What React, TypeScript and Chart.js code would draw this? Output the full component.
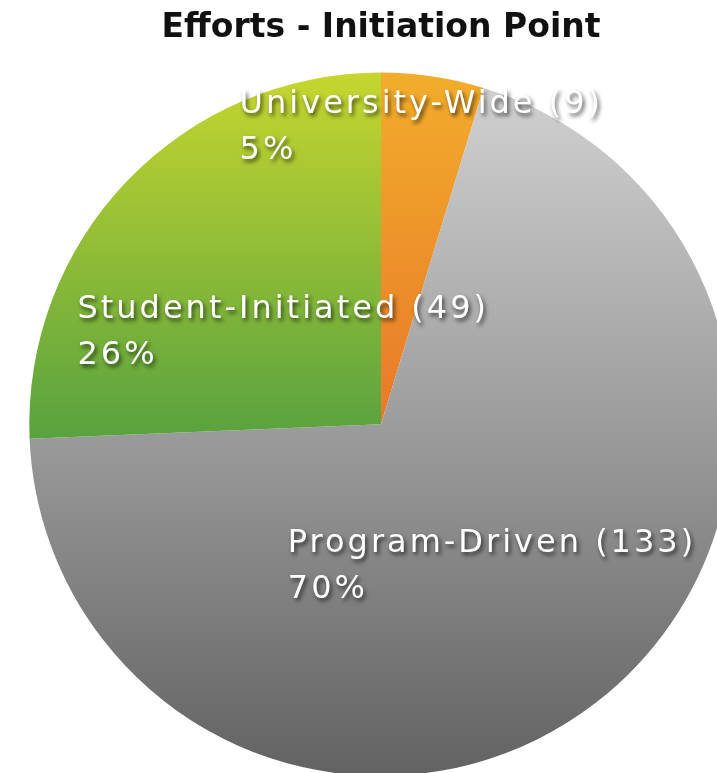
import React, { useEffect, useRef } from "react";
import { Chart, registerables } from "chart.js";

Chart.register(...registerables);

const chartTitle = "Efforts - Initiation Point";
const categories = ["University-Wide", "Program-Driven", "Student-Initiated"];
const counts = [9, 133, 49];
const percentLabels = ["5%", "70%", "26%"];

// label anchor (left edge, first line centre) relative to pie centre, in units of radius
const labelOffsets = [
  [-0.402, -0.909],
  [-0.265, 0.339],
  [-0.863, -0.325],
];

const gradientStops: [number, string][][] = [
  [[0, "#f2ad2b"], [0.5, "#e8792a"], [1, "#e06d28"]],
  [[0, "#d3d3d3"], [0.45, "#a2a2a2"], [1, "#626262"]],
  [[0, "#c6d62f"], [0.52, "#58a23f"], [1, "#3f8f3a"]],
];

const FONT = "'DejaVu Sans', sans-serif";

const labelPlugin = {
  id: "sliceLabels",
  afterDatasetsDraw(chart: any) {
    const meta = chart.getDatasetMeta(0);
    const arc0 = meta.data[0];
    if (!arc0) return;
    const cx = arc0.x;
    const cy = arc0.y;
    const r = arc0.outerRadius;
    const ctx = chart.ctx;
    ctx.save();
    ctx.font = `normal 32px ${FONT}`;
    (ctx as any).letterSpacing = "3px";
    ctx.fillStyle = "#ffffff";
    ctx.textAlign = "left";
    ctx.textBaseline = "middle";
    ctx.shadowColor = "rgba(0,0,0,0.65)";
    ctx.shadowOffsetX = 2;
    ctx.shadowOffsetY = 3;
    ctx.shadowBlur = 4;
    categories.forEach((name, i) => {
      const [ox, oy] = labelOffsets[i];
      const x = cx + ox * r;
      const y = cy + oy * r;
      ctx.fillText(`${name} (${counts[i]})`, x, y);
      ctx.fillText(percentLabels[i], x, y + 46);
    });
    ctx.restore();
  },
};

export default function App() {
  const canvasRef = useRef<HTMLCanvasElement | null>(null);

  useEffect(() => {
    if (!canvasRef.current) return;
    const chart = new Chart(canvasRef.current, {
      type: "pie",
      data: {
        labels: categories,
        datasets: [
          {
            data: counts,
            borderWidth: 0,
            backgroundColor: (context: any) => {
              const { chart, dataIndex } = context;
              const area = chart.chartArea;
              if (!area) return "#999";
              const g = chart.ctx.createLinearGradient(0, area.top, 0, area.bottom);
              gradientStops[dataIndex].forEach(([p, c]) => g.addColorStop(p, c));
              return g;
            },
          },
        ],
      },
      options: {
        responsive: false,
        animation: false,
        layout: { padding: 0 },
        plugins: {
          legend: { display: false },
          tooltip: { enabled: false },
          title: {
            display: true,
            text: chartTitle,
            color: "#111111",
            font: { family: FONT, size: 33, weight: "bold" },
            padding: { top: 9, bottom: 24 },
          },
        },
      },
      plugins: [labelPlugin],
    });
    return () => chart.destroy();
  }, []);

  return (
    <div
      style={{
        position: "fixed",
        left: 0,
        top: 0,
        width: 717,
        height: 773,
        overflow: "hidden",
        background: "#ffffff",
      }}
    >
      <canvas ref={canvasRef} width={762} height={776} style={{ display: "block" }} />
    </div>
  );
}
